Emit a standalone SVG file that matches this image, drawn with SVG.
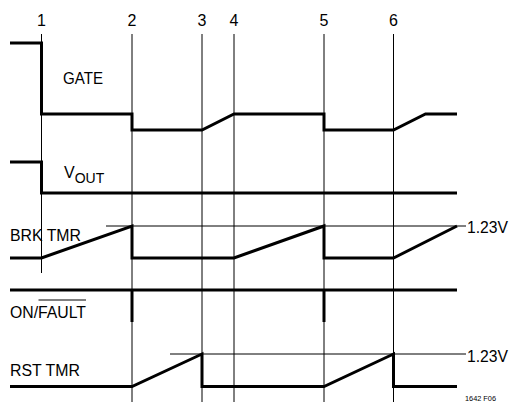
<svg xmlns="http://www.w3.org/2000/svg" width="509" height="402" viewBox="0 0 509 402">
<style>
.grid{stroke:#000;stroke-width:1;fill:none}
.wave{stroke:#000;stroke-width:3;fill:none;stroke-linejoin:miter;stroke-linecap:butt}
.lbl{font-family:"Liberation Sans",Arial,sans-serif;font-size:16px;fill:#000}
.num{font-family:"Liberation Sans",Arial,sans-serif;font-size:16px;fill:#000;text-anchor:middle}
</style>
<rect width="509" height="402" fill="#fff"/>
<g id="time-markers">
<line class="grid" x1="41.5" y1="34" x2="41.5" y2="273"/>
<line class="grid" x1="132" y1="34" x2="132" y2="402"/>
<line class="grid" x1="202" y1="34" x2="202" y2="402"/>
<line class="grid" x1="234" y1="34" x2="234" y2="402"/>
<line class="grid" x1="324" y1="34" x2="324" y2="402"/>
<line class="grid" x1="393.5" y1="34" x2="393.5" y2="402"/>
<text class="num" x="41.5" y="26">1</text>
<text class="num" x="132" y="26">2</text>
<text class="num" x="202" y="26">3</text>
<text class="num" x="234" y="26">4</text>
<text class="num" x="324" y="26">5</text>
<text class="num" x="393.5" y="26">6</text>
</g>
<g id="gate">
<polyline class="wave" points="10,43 41.5,43 41.5,114 132,114 132,130 202,130 234,114 324,114 324,130 393.5,130 425.5,114 457,114"/>
<text class="lbl" x="63" y="84" textLength="40" lengthAdjust="spacingAndGlyphs">GATE</text>
</g>
<g id="vout">
<polyline class="wave" points="10,162 41.5,162 41.5,193 457,193"/>
<text class="lbl" x="64" y="178">V<tspan font-size="14" dy="4.5">OUT</tspan></text>
</g>
<g id="brk-tmr">
<line class="grid" x1="106" y1="226" x2="457" y2="226"/>
<polyline class="wave" points="10,258 41.5,258 132,226 132,258 234,258 324,226 324,258 393.5,258 457,226"/>
<text class="lbl" x="10" y="240.5" textLength="71" lengthAdjust="spacingAndGlyphs">BRK TMR</text>
<line class="grid" x1="457" y1="226" x2="466" y2="226"/>
<text class="lbl" x="467" y="233" textLength="41" lengthAdjust="spacingAndGlyphs">1.23V</text>
</g>
<g id="on-fault">
<polyline class="wave" points="10,290 457,290"/>
<line class="wave" x1="132" y1="290" x2="132" y2="322"/>
<line class="wave" x1="324" y1="290" x2="324" y2="322"/>
<text class="lbl" x="10" y="318" textLength="76" lengthAdjust="spacingAndGlyphs">ON/FAULT</text>
<line class="grid" x1="38.5" y1="300" x2="86" y2="300"/>
</g>
<g id="rst-tmr">
<line class="grid" x1="170" y1="354" x2="466" y2="354"/>
<polyline class="wave" points="10,386.5 132,386.5 202,354 202,386.5 324,386.5 393.5,354 393.5,386.5 457,386.5"/>
<text class="lbl" x="10" y="376" textLength="70" lengthAdjust="spacingAndGlyphs">RST TMR</text>
<text class="lbl" x="467" y="362" textLength="41" lengthAdjust="spacingAndGlyphs">1.23V</text>
</g>
<text x="465" y="401" font-family="Liberation Sans,Arial,sans-serif" font-size="8" textLength="31" lengthAdjust="spacingAndGlyphs">1642 F06</text>
</svg>
